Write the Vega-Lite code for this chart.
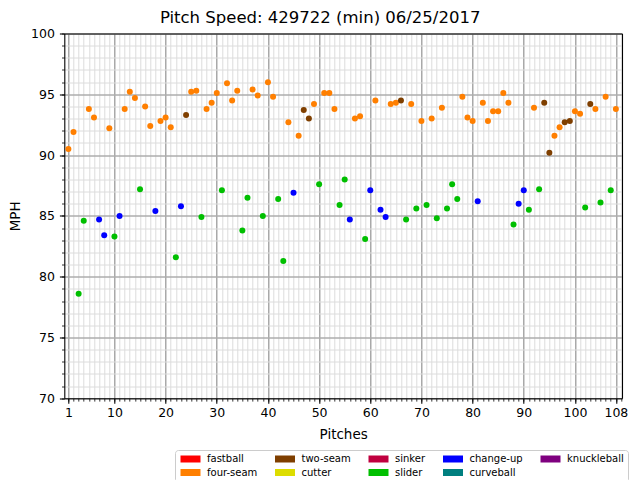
{
  "$schema": "https://vega.github.io/schema/vega-lite/v6.json",
  "autosize": {"type": "none"},
  "width": 557.7,
  "height": 364.8,
  "padding": {"left": 64.3, "top": 33.5, "right": 18, "bottom": 81.7},
  "title": {
    "text": "Pitch Speed: 429722 (min) 06/25/2017",
    "font": "DejaVu Sans",
    "fontSize": 16.5,
    "fontWeight": "normal",
    "color": "black",
    "offset": 1,
    "dx": -23
  },
  "data": {
    "values": [
      {"pitch": 1, "mph": 90.5, "type": "four-seam"},
      {"pitch": 2, "mph": 91.9, "type": "four-seam"},
      {"pitch": 3, "mph": 78.6, "type": "slider"},
      {"pitch": 4, "mph": 84.6, "type": "slider"},
      {"pitch": 5, "mph": 93.8, "type": "four-seam"},
      {"pitch": 6, "mph": 93.1, "type": "four-seam"},
      {"pitch": 7, "mph": 84.7, "type": "change-up"},
      {"pitch": 8, "mph": 83.4, "type": "change-up"},
      {"pitch": 9, "mph": 92.2, "type": "four-seam"},
      {"pitch": 10, "mph": 83.3, "type": "slider"},
      {"pitch": 11, "mph": 85.0, "type": "change-up"},
      {"pitch": 12, "mph": 93.8, "type": "four-seam"},
      {"pitch": 13, "mph": 95.2, "type": "four-seam"},
      {"pitch": 14, "mph": 94.7, "type": "four-seam"},
      {"pitch": 15, "mph": 87.2, "type": "slider"},
      {"pitch": 16, "mph": 94.0, "type": "four-seam"},
      {"pitch": 17, "mph": 92.4, "type": "four-seam"},
      {"pitch": 18, "mph": 85.4, "type": "change-up"},
      {"pitch": 19, "mph": 92.8, "type": "four-seam"},
      {"pitch": 20, "mph": 93.1, "type": "four-seam"},
      {"pitch": 21, "mph": 92.3, "type": "four-seam"},
      {"pitch": 22, "mph": 81.6, "type": "slider"},
      {"pitch": 23, "mph": 85.8, "type": "change-up"},
      {"pitch": 24, "mph": 93.3, "type": "two-seam"},
      {"pitch": 25, "mph": 95.2, "type": "four-seam"},
      {"pitch": 26, "mph": 95.3, "type": "four-seam"},
      {"pitch": 27, "mph": 84.9, "type": "slider"},
      {"pitch": 28, "mph": 93.8, "type": "four-seam"},
      {"pitch": 29, "mph": 94.3, "type": "four-seam"},
      {"pitch": 30, "mph": 95.1, "type": "four-seam"},
      {"pitch": 31, "mph": 87.1, "type": "slider"},
      {"pitch": 32, "mph": 95.9, "type": "four-seam"},
      {"pitch": 33, "mph": 94.5, "type": "four-seam"},
      {"pitch": 34, "mph": 95.3, "type": "four-seam"},
      {"pitch": 35, "mph": 83.8, "type": "slider"},
      {"pitch": 36, "mph": 86.5, "type": "slider"},
      {"pitch": 37, "mph": 95.4, "type": "four-seam"},
      {"pitch": 38, "mph": 94.9, "type": "four-seam"},
      {"pitch": 39, "mph": 85.0, "type": "slider"},
      {"pitch": 40, "mph": 96.0, "type": "four-seam"},
      {"pitch": 41, "mph": 94.8, "type": "four-seam"},
      {"pitch": 42, "mph": 86.4, "type": "slider"},
      {"pitch": 43, "mph": 81.3, "type": "slider"},
      {"pitch": 44, "mph": 92.7, "type": "four-seam"},
      {"pitch": 45, "mph": 86.9, "type": "change-up"},
      {"pitch": 46, "mph": 91.6, "type": "four-seam"},
      {"pitch": 47, "mph": 93.7, "type": "two-seam"},
      {"pitch": 48, "mph": 93.0, "type": "two-seam"},
      {"pitch": 49, "mph": 94.2, "type": "four-seam"},
      {"pitch": 50, "mph": 87.6, "type": "slider"},
      {"pitch": 51, "mph": 95.1, "type": "four-seam"},
      {"pitch": 52, "mph": 95.1, "type": "four-seam"},
      {"pitch": 53, "mph": 93.8, "type": "four-seam"},
      {"pitch": 54, "mph": 85.9, "type": "slider"},
      {"pitch": 55, "mph": 88.0, "type": "slider"},
      {"pitch": 56, "mph": 84.7, "type": "change-up"},
      {"pitch": 57, "mph": 93.0, "type": "four-seam"},
      {"pitch": 58, "mph": 93.2, "type": "four-seam"},
      {"pitch": 59, "mph": 83.1, "type": "slider"},
      {"pitch": 60, "mph": 87.1, "type": "change-up"},
      {"pitch": 61, "mph": 94.5, "type": "four-seam"},
      {"pitch": 62, "mph": 85.5, "type": "change-up"},
      {"pitch": 63, "mph": 84.9, "type": "change-up"},
      {"pitch": 64, "mph": 94.2, "type": "four-seam"},
      {"pitch": 65, "mph": 94.3, "type": "four-seam"},
      {"pitch": 66, "mph": 94.5, "type": "two-seam"},
      {"pitch": 67, "mph": 84.7, "type": "slider"},
      {"pitch": 68, "mph": 94.2, "type": "four-seam"},
      {"pitch": 69, "mph": 85.6, "type": "slider"},
      {"pitch": 70, "mph": 92.8, "type": "four-seam"},
      {"pitch": 71, "mph": 85.9, "type": "slider"},
      {"pitch": 72, "mph": 93.0, "type": "four-seam"},
      {"pitch": 73, "mph": 84.8, "type": "slider"},
      {"pitch": 74, "mph": 93.9, "type": "four-seam"},
      {"pitch": 75, "mph": 85.6, "type": "slider"},
      {"pitch": 76, "mph": 87.6, "type": "slider"},
      {"pitch": 77, "mph": 86.4, "type": "slider"},
      {"pitch": 78, "mph": 94.8, "type": "four-seam"},
      {"pitch": 79, "mph": 93.1, "type": "four-seam"},
      {"pitch": 80, "mph": 92.8, "type": "four-seam"},
      {"pitch": 81, "mph": 86.2, "type": "change-up"},
      {"pitch": 82, "mph": 94.3, "type": "four-seam"},
      {"pitch": 83, "mph": 92.8, "type": "four-seam"},
      {"pitch": 84, "mph": 93.6, "type": "four-seam"},
      {"pitch": 85, "mph": 93.6, "type": "four-seam"},
      {"pitch": 86, "mph": 95.1, "type": "four-seam"},
      {"pitch": 87, "mph": 94.3, "type": "four-seam"},
      {"pitch": 88, "mph": 84.3, "type": "slider"},
      {"pitch": 89, "mph": 86.0, "type": "change-up"},
      {"pitch": 90, "mph": 87.1, "type": "change-up"},
      {"pitch": 91, "mph": 85.5, "type": "slider"},
      {"pitch": 92, "mph": 93.9, "type": "four-seam"},
      {"pitch": 93, "mph": 87.2, "type": "slider"},
      {"pitch": 94, "mph": 94.3, "type": "two-seam"},
      {"pitch": 95, "mph": 90.2, "type": "two-seam"},
      {"pitch": 96, "mph": 91.6, "type": "four-seam"},
      {"pitch": 97, "mph": 92.3, "type": "four-seam"},
      {"pitch": 98, "mph": 92.7, "type": "two-seam"},
      {"pitch": 99, "mph": 92.8, "type": "two-seam"},
      {"pitch": 100, "mph": 93.6, "type": "four-seam"},
      {"pitch": 101, "mph": 93.4, "type": "four-seam"},
      {"pitch": 102, "mph": 85.7, "type": "slider"},
      {"pitch": 103, "mph": 94.2, "type": "two-seam"},
      {"pitch": 104, "mph": 93.8, "type": "four-seam"},
      {"pitch": 105, "mph": 86.1, "type": "slider"},
      {"pitch": 106, "mph": 94.8, "type": "four-seam"},
      {"pitch": 107, "mph": 87.1, "type": "slider"},
      {"pitch": 108, "mph": 93.8, "type": "four-seam"}
    ]
  },
  "layer": [
    {
      "mark": {"type": "circle", "opacity": 0},
      "encoding": {
        "x": {
          "field": "pitch", "type": "quantitative",
          "scale": {"domain": [0.2, 109.2], "nice": false, "zero": false},
          "axis": {"orient": "bottom", "tickCount": 110, "grid": true, "gridColor": "#dcdcdc", "gridWidth": 1, "labels": false, "domain": false, "ticks": true, "tickSize": 2.8, "tickWidth": 0.8, "tickColor": "black", "title": null}
        },
        "y": {
          "field": "mph", "type": "quantitative",
          "scale": {"domain": [70, 100], "nice": false, "zero": false},
          "axis": {"orient": "left", "tickCount": 30, "grid": true, "gridColor": "#dcdcdc", "gridWidth": 1, "labels": false, "domain": false, "ticks": true, "tickSize": 2.8, "tickWidth": 0.8, "tickColor": "black", "title": null}
        }
      }
    },
    {
      "mark": {"type": "circle", "size": 36, "opacity": 1},
      "encoding": {
        "x": {
          "field": "pitch", "type": "quantitative",
          "axis": {"orient": "bottom", "values": [1, 10, 20, 30, 40, 50, 60, 70, 80, 90, 100, 108], "grid": true, "gridColor": "#959595", "gridWidth": 1.1, "domain": false, "tickSize": 4.9, "tickWidth": 1.1, "tickColor": "black", "labelPadding": 3, "title": "Pitches", "titlePadding": 9}
        },
        "y": {
          "field": "mph", "type": "quantitative",
          "axis": {"orient": "left", "values": [70, 75, 80, 85, 90, 95, 100], "grid": true, "gridColor": "#959595", "gridWidth": 1.1, "domain": false, "tickSize": 4.9, "tickWidth": 1.1, "tickColor": "black", "labelPadding": 5, "title": "MPH", "titlePadding": 8}
        },
        "color": {
          "field": "type", "type": "nominal",
          "scale": {
            "domain": ["fastball", "two-seam", "sinker", "change-up", "knuckleball", "four-seam", "cutter", "slider", "curveball"],
            "range": ["#ff0000", "#7f3f00", "#c0003f", "#0000ff", "#7f007f", "#ff7f00", "#dddd00", "#00bf00", "#007f7f"]
          },
          "legend": {
            "title": null,
            "orient": "none",
            "legendX": 110.7,
            "legendY": 416.5,
            "direction": "horizontal",
            "columns": 5,
            "symbolType": "M-1,-1L4.714,-1L4.714,1L-1,1Z",
            "symbolSize": 49,
            "symbolStrokeWidth": 0,
            "symbolOpacity": 1,
            "labelFont": "DejaVu Sans",
            "labelFontSize": 10,
            "labelColor": "black",
            "labelOffset": 18,
            "columnPadding": 15.5,
            "rowPadding": 3.5,
            "padding": 4,
            "strokeColor": "#cccccc",
            "fillColor": "white",
            "cornerRadius": 3
          }
        }
      }
    },
    {
      "mark": {"type": "circle", "opacity": 0},
      "encoding": {
        "x": {
          "field": "pitch", "type": "quantitative",
          "axis": {"orient": "top", "domain": true, "domainColor": "black", "domainWidth": 1.1, "ticks": false, "labels": false, "grid": false, "title": null}
        },
        "y": {
          "field": "mph", "type": "quantitative",
          "axis": {"orient": "right", "domain": true, "domainColor": "black", "domainWidth": 1.1, "ticks": false, "labels": false, "grid": false, "title": null}
        }
      }
    },
    {
      "mark": {"type": "circle", "opacity": 0},
      "encoding": {
        "x": {
          "field": "pitch", "type": "quantitative",
          "axis": {"orient": "bottom", "domain": true, "domainColor": "black", "domainWidth": 1.1, "ticks": false, "labels": false, "grid": false, "title": null}
        },
        "y": {
          "field": "mph", "type": "quantitative",
          "axis": {"orient": "left", "domain": true, "domainColor": "black", "domainWidth": 1.1, "ticks": false, "labels": false, "grid": false, "title": null}
        }
      }
    }
  ],
  "resolve": {"axis": {"x": "independent", "y": "independent"}},
  "config": {
    "view": {"stroke": null},
    "axis": {
      "labelFont": "DejaVu Sans",
      "labelFontSize": 12.5,
      "labelColor": "black",
      "titleFont": "DejaVu Sans",
      "titleFontSize": 13.5,
      "titleFontWeight": "normal",
      "titleColor": "black"
    }
  }
}
